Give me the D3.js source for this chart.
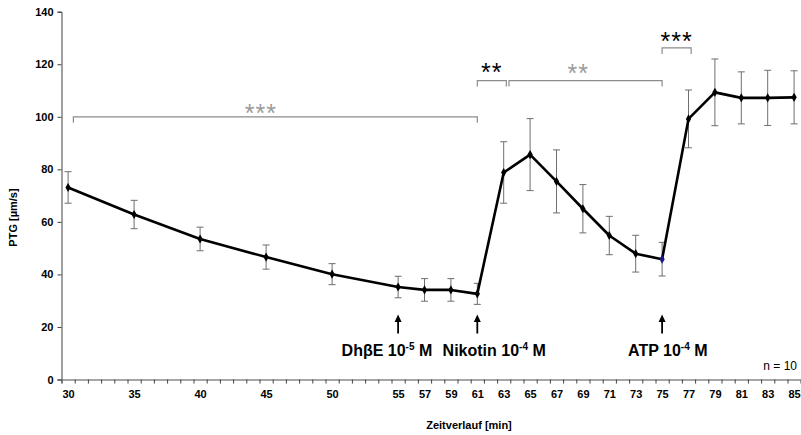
<!DOCTYPE html>
<html>
<head>
<meta charset="utf-8">
<script src="https://cdn.jsdelivr.net/npm/d3@7"></script>
<style>
  body { margin: 0; background: #fff; }
  svg text { font-family: Arial, "Liberation Sans", sans-serif; }
</style>
</head>
<body>
<svg id="chart" width="801" height="435"></svg>
<script>
/// data
var minutes = [30, 35, 40, 45, 50, 55, 57, 59, 61, 63, 65, 67, 69, 71, 73, 75, 77, 79, 81, 83, 85];
var ptg = [73.1, 62.8, 53.5, 46.6, 40.1, 35.2, 34.1, 34.1, 32.6, 78.8, 85.6, 75.4, 65.0, 54.8, 47.9, 45.8, 99.2, 109.3, 107.2, 107.2, 107.4];
var sem = [6.0, 5.4, 4.5, 4.6, 4.0, 4.1, 4.3, 4.3, 4.0, 11.7, 13.7, 12.0, 9.2, 7.3, 7.0, 6.4, 11.0, 12.7, 9.9, 10.5, 10.1];

var xTickLabels = [30, 35, 40, 45, 50, 55, 57, 59, 61, 63, 65, 67, 69, 71, 73, 75, 77, 79, 81, 83, 85];
var yTicks = [0, 20, 40, 60, 80, 100, 120, 140];

// significance brackets: from/to minute, level, star position
var brFrom = [30.4, 61, 63.4, 75];
var brTo = [61, 63.2, 75, 77.2];
var brLevel = [100, 113.8, 113.8, 126.2];
var brStars = ["***", "**", "**", "***"];
var brStarAt = [44.6, 62.1, 68.65, 76.1];
var brStarLevel = [103.3, 119.0, 118.6, 130.9];
var brDark = [false, true, false, true];

// substance additions
var addMinute = [55, 61, 75];
var addName = ["DhβE 10", "Nikotin 10", "ATP 10"];
var addExp = ["-5", "-4", "-4"];

var svg = d3.select("#chart");

/// scales
var x = d3.scaleLinear().domain([29.5, 85.5]).range([61.5, 800.7]);
var y = d3.scaleLinear().domain([0, 140]).range([379.5, 11.7]);

/// y axis
var yAxis = svg.append("g")
               .attr("transform", "translate(61.5,0)")
               .call(d3.axisLeft(y).tickValues(yTicks).tickSize(4).tickPadding(4));
yAxis.select(".domain").attr("stroke", "#404040");
yAxis.selectAll(".tick line").attr("stroke", "#404040");
yAxis.selectAll("text")
     .style("font-size", "11px")
     .style("font-weight", "bold")
     .attr("fill", "#000");

/// x axis: boundary ticks every minute, labels at chosen minutes
var xTicksG = svg.append("g")
                 .attr("transform", "translate(0,379.5)")
                 .call(d3.axisBottom(x).tickValues(d3.range(29.5, 86, 1)).tickFormat("").tickSize(4));
xTicksG.select(".domain").attr("stroke", "#8a8a8a").attr("stroke-width", 1.3);
xTicksG.selectAll(".tick line").attr("stroke", "#404040");

var xLabelsG = svg.append("g")
                  .attr("transform", "translate(0,379.5)")
                  .call(d3.axisBottom(x).tickValues(xTickLabels).tickSize(0).tickPadding(11));
xLabelsG.select(".domain").remove();
xLabelsG.selectAll("text")
        .style("font-size", "11px")
        .style("font-weight", "bold")
        .attr("fill", "#000");

/// axis titles
svg.append("text")
   .attr("transform", "translate(16.5,217.5) rotate(-90)")
   .attr("text-anchor", "middle")
   .style("font-size", "11px")
   .style("font-weight", "bold")
   .text("PTG [µm/s]");

svg.append("text")
   .attr("x", 469)
   .attr("y", 429)
   .attr("text-anchor", "middle")
   .style("font-size", "11px")
   .style("font-weight", "bold")
   .text("Zeitverlauf [min]");

svg.append("text")
   .attr("x", 797)
   .attr("y", 370)
   .attr("text-anchor", "end")
   .style("font-size", "12px")
   .text("n = 10");

/// error bars
var pts = minutes.map((m, i) => ({m: m, v: ptg[i], e: sem[i]}));
var errG = svg.append("g").attr("stroke", "#6e6e6e").attr("stroke-width", 1);
errG.selectAll(null).data(pts).enter().append("line")
    .attr("x1", d => x(d.m)).attr("x2", d => x(d.m))
    .attr("y1", d => y(d.v + d.e)).attr("y2", d => y(d.v - d.e));
errG.selectAll(null).data(pts).enter().append("line")
    .attr("x1", d => x(d.m) - 3.5).attr("x2", d => x(d.m) + 3.5)
    .attr("y1", d => y(d.v + d.e)).attr("y2", d => y(d.v + d.e));
errG.selectAll(null).data(pts).enter().append("line")
    .attr("x1", d => x(d.m) - 3.5).attr("x2", d => x(d.m) + 3.5)
    .attr("y1", d => y(d.v - d.e)).attr("y2", d => y(d.v - d.e));

/// mean line
svg.append("path")
   .datum(pts)
   .attr("fill", "none")
   .attr("stroke", "#000")
   .attr("stroke-width", 2.6)
   .attr("stroke-linejoin", "round")
   .attr("d", d3.line().x(d => x(d.m)).y(d => y(d.v)));

svg.selectAll(null).data(pts).enter().append("path")
   .attr("transform", d => "translate(" + x(d.m) + "," + y(d.v) + ")")
   .attr("d", d3.symbol(d3.symbolDiamond).size(24))
   .attr("fill", d => d.m === 75 ? "#1a1a80" : "#000");

/// significance brackets
var brackets = brFrom.map((f, i) => ({f: f, t: brTo[i], l: brLevel[i], s: brStars[i],
                                      sx: brStarAt[i], sl: brStarLevel[i], dark: brDark[i]}));
var brG = svg.append("g");
brG.selectAll(null).data(brackets).enter().append("path")
   .attr("fill", "none")
   .attr("stroke", "#8c8c8c")
   .attr("stroke-width", 1.2)
   .attr("d", d => "M" + x(d.f) + "," + (y(d.l) + 6) + "V" + y(d.l) +
                   "H" + x(d.t) + "V" + (y(d.l) + 6));
brG.selectAll(null).data(brackets).enter().append("text")
   .attr("x", d => x(d.sx))
   .attr("y", d => y(d.sl) + 14)
   .attr("text-anchor", "middle")
   .style("font-size", "25px")
   .style("letter-spacing", "1px")
   .attr("fill", d => d.dark ? "#000" : "#9a9a9a")
   .text(d => d.s);

/// addition arrows and labels
var adds = addMinute.map((m, i) => ({m: m, name: addName[i], exp: addExp[i]}));
var labelShift = [-56.5, -34.7, -34];
var addG = svg.append("g");
addG.selectAll(null).data(adds).enter().append("line")
    .attr("x1", d => x(d.m)).attr("x2", d => x(d.m))
    .attr("y1", 320).attr("y2", 333.5)
    .attr("stroke", "#000").attr("stroke-width", 1.8);
addG.selectAll(null).data(adds).enter().append("path")
    .attr("d", d => "M" + (x(d.m) - 3.5) + ",322L" + x(d.m) + ",314.5L" + (x(d.m) + 3.5) + ",322Z")
    .attr("fill", "#000");
var addText = addG.selectAll(null).data(adds).enter().append("text")
    .attr("x", (d, i) => x(d.m) + labelShift[i])
    .attr("y", 356)
    .style("font-size", "16px")
    .style("font-weight", "bold");
addText.append("tspan").text(d => d.name);
addText.append("tspan").attr("dy", -6).style("font-size", "10px").text(d => d.exp);
addText.append("tspan").attr("dy", 6).text(" M");
</script>
</body>
</html>
